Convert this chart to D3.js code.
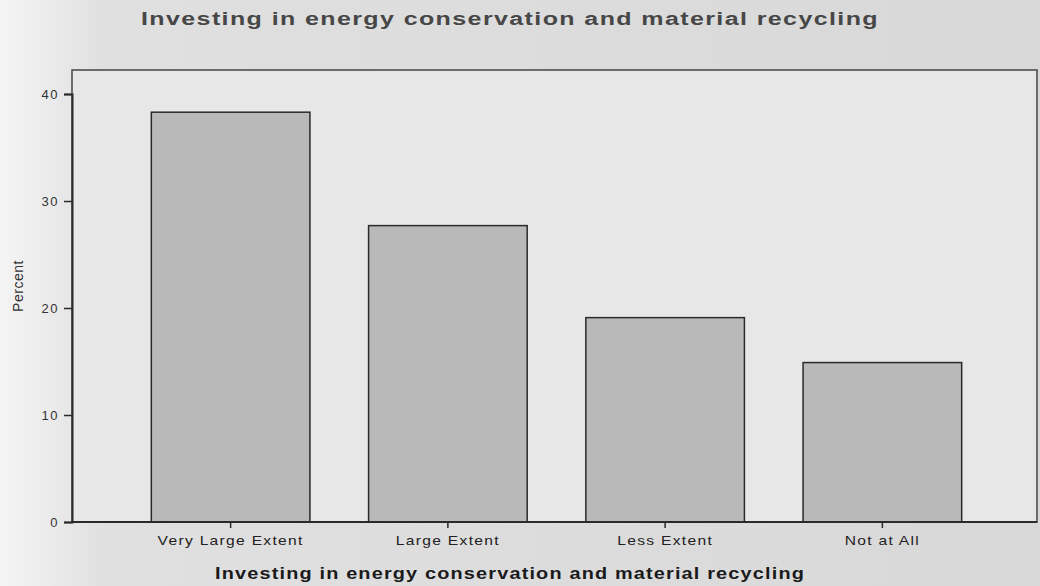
<!DOCTYPE html>
<html>
<head>
<meta charset="utf-8">
<script src="https://cdn.jsdelivr.net/npm/d3@7"></script>
<style>
  body { margin: 0; background: #d9d9d9; }
  svg { display: block; }
</style>
</head>
<body>
<svg width="1040" height="586"></svg>
<script>
const categories = ['Very Large Extent', 'Large Extent', 'Less Extent', 'Not at All'];
const percents = [38.3, 27.7, 19.1, 14.9];
const yTicks = [0, 10, 20, 30, 40];
const titleText = 'Investing in energy conservation and material recycling';

const svg = d3.select('svg');
const font = 'Liberation Sans, Arial, sans-serif';

// page background, lighter towards the left like the scan
const defs = svg.append('defs');
const grad = defs.append('linearGradient').attr('id', 'bg');
grad.append('stop').attr('offset', '0%').attr('stop-color', '#f4f4f4');
grad.append('stop').attr('offset', '10%').attr('stop-color', '#e0e0e0');
grad.append('stop').attr('offset', '100%').attr('stop-color', '#d8d8d8');
svg.append('rect').attr('width', 1040).attr('height', 586).attr('fill', 'url(#bg)');

// frame
const frame = { left: 72, top: 70, right: 1037, bottom: 522 };

svg.append('rect')
    .attr('x', frame.left)
    .attr('y', frame.top)
    .attr('width', frame.right - frame.left)
    .attr('height', frame.bottom - frame.top)
    .attr('fill', '#e7e7e7');

// scales
const yScale = d3.scaleLinear()
    .domain([0, 40])
    .range([frame.bottom, 94]);

const xScale = d3.scaleBand()
    .domain(categories)
    .range([122, 991])
    .paddingInner(0.27)
    .paddingOuter(0.135);

// bars
svg.append('g')
    .selectAll('rect')
    .data(percents)
    .enter().append('rect')
    .attr('x', (d, i) => xScale(categories[i]))
    .attr('y', d => yScale(d))
    .attr('width', xScale.bandwidth())
    .attr('height', d => yScale(0) - yScale(d))
    .attr('fill', '#b9b9b9')
    .attr('stroke', '#2a2a2a')
    .attr('stroke-width', 1.5);

// frame border
svg.append('rect')
    .attr('x', frame.left)
    .attr('y', frame.top)
    .attr('width', frame.right - frame.left)
    .attr('height', frame.bottom - frame.top)
    .attr('fill', 'none')
    .attr('stroke', '#444')
    .attr('stroke-width', 1.5);

// y axis
const yAxis = svg.append('g')
    .attr('transform', `translate(${frame.left}, 0)`)
    .call(d3.axisLeft(yScale).tickValues(yTicks).tickSize(8).tickPadding(5));
yAxis.select('.domain').attr('stroke', '#2a2a2a').attr('stroke-width', 2);
yAxis.selectAll('.tick line').attr('stroke', '#2a2a2a').attr('stroke-width', 1.5);
yAxis.selectAll('.tick text')
    .attr('font-family', font)
    .attr('font-size', 13)
    .attr('letter-spacing', 1.5)
    .attr('fill', '#333');

// x axis
const xAxis = svg.append('g')
    .attr('transform', `translate(0, ${frame.bottom})`)
    .call(d3.axisBottom(xScale).tickSize(6).tickPadding(8));
xAxis.select('.domain').attr('stroke', '#2a2a2a').attr('stroke-width', 2)
    .attr('d', `M${frame.left},0H${frame.right}`);
xAxis.selectAll('.tick line').attr('stroke', '#2a2a2a').attr('stroke-width', 1.5);
xAxis.selectAll('.tick text')
    .attr('font-family', font)
    .attr('font-size', 12)
    .attr('letter-spacing', 1)
    .attr('transform', 'scale(1.3,1)')
    .attr('fill', '#222');

// titles
svg.append('text')
    .attr('x', 510)
    .attr('y', 25)
    .attr('text-anchor', 'middle')
    .attr('font-family', font)
    .attr('font-weight', 'bold')
    .attr('font-size', 18)
    .attr('letter-spacing', 1)
    .attr('fill', '#474747')
    .attr('textLength', 738)
    .attr('lengthAdjust', 'spacingAndGlyphs')
    .text(titleText);

svg.append('text')
    .attr('x', 510)
    .attr('y', 579)
    .attr('text-anchor', 'middle')
    .attr('font-family', font)
    .attr('font-weight', 'bold')
    .attr('font-size', 17)
    .attr('letter-spacing', 1)
    .attr('fill', '#1a1a1a')
    .attr('textLength', 590)
    .attr('lengthAdjust', 'spacingAndGlyphs')
    .text(titleText);

svg.append('text')
    .attr('transform', 'translate(23, 286) rotate(-90)')
    .attr('text-anchor', 'middle')
    .attr('font-family', font)
    .attr('font-size', 14)
    .attr('letter-spacing', 0.5)
    .attr('fill', '#333')
    .text('Percent');
</script>
</body>
</html>
